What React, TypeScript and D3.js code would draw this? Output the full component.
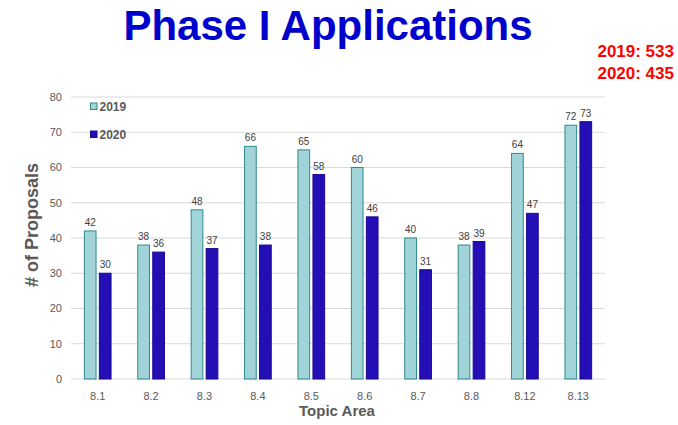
import React from "react";
import * as d3 from "d3";

const categories = ["8.1", "8.2", "8.3", "8.4", "8.5", "8.6", "8.7", "8.8", "8.12", "8.13"];
const seriesNames = ["2019", "2020"];
const values2019 = [42, 38, 48, 66, 65, 60, 40, 38, 64, 72];
const values2020 = [30, 36, 37, 38, 58, 46, 31, 39, 47, 73];
const yTicks = [0, 10, 20, 30, 40, 50, 60, 70, 80];
const totals = ["2019: 533", "2020: 435"];

const W = 678;
const H = 425;

export default function App() {
  const x = d3.scaleBand<string>().domain(categories).range([71, 605]).paddingInner(0).paddingOuter(0);
  const y = d3.scaleLinear().domain([0, 80]).range([379, 97]);
  const barW = 12.7;
  const gap = 2.3;
  const fills = ["#a0d4d8", "#230fb5"];
  const strokes = ["#2f8a8c", "#1a0a90"];
  const series = [values2019, values2020];

  return (
    <svg width={W} height={H} style={{ position: "absolute", left: 0, top: 0 }} fontFamily="Arial, 'Liberation Sans', sans-serif">
      <rect width={W} height={H} fill="#fff" />
      <text x={328} y={40} textAnchor="middle" fontSize={42} fontWeight="bold" fill="#0000cc">Phase I Applications</text>
      {totals.map((t, i) => (
        <text key={t} x={674} y={57 + i * 21.5} textAnchor="end" fontSize={17} fontWeight="bold" fill="#ff0000">{t}</text>
      ))}
      {yTicks.map((t) => (
        <g key={t}>
          <line x1={71} x2={605} y1={y(t)} y2={y(t)} stroke="#d9d9d9" strokeWidth={1} />
          <text x={62} y={y(t)} dy="0.35em" textAnchor="end" fontSize={11} fill="#595959">{t}</text>
        </g>
      ))}
      {categories.map((c, i) => {
        const cx = (x(c) as number) + x.bandwidth() / 2;
        return (
          <g key={c}>
            {series.map((vals, s) => {
              const bx = s === 0 ? cx - gap / 2 - barW : cx + gap / 2;
              const v = vals[i];
              return (
                <g key={s}>
                  <rect x={bx + 0.5} y={y(v)} width={barW - 1} height={y(0) - y(v)} fill={fills[s]} stroke={strokes[s]} strokeWidth={1} />
                  <text x={bx + barW / 2} y={y(v) - 5} textAnchor="middle" fontSize={10} fill="#404040">{v}</text>
                </g>
              );
            })}
            <text x={cx} y={396} dy="0.35em" textAnchor="middle" fontSize={11} fill="#595959">{c}</text>
          </g>
        );
      })}
      <text x={337} y={416} textAnchor="middle" fontSize={15} fontWeight="bold" fill="#595959">Topic Area</text>
      <text transform="translate(38,225) rotate(-90)" textAnchor="middle" fontSize={18} fontWeight="bold" fill="#595959"># of Proposals</text>
      {seriesNames.map((n, i) => (
        <g key={n}>
          <rect x={90.5} y={103 + i * 28} width={6.5} height={6.5} fill={fills[i]} stroke={strokes[i]} strokeWidth={1} />
          <text x={99.5} y={106.5 + i * 28} dy="0.35em" fontSize={12} fontWeight="bold" fill="#595959">{n}</text>
        </g>
      ))}
    </svg>
  );
}
